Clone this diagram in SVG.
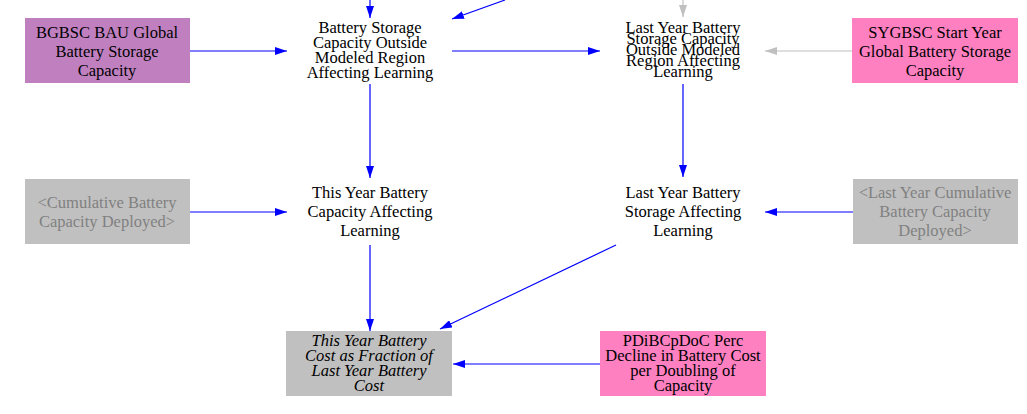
<svg xmlns="http://www.w3.org/2000/svg" width="1027" height="414" viewBox="0 0 1027 414">
<style>
text{font-family:"Liberation Serif","Times New Roman",serif;font-size:16.5px;text-anchor:middle;fill:#000}
.g text{fill:#808080}
.i text{font-style:italic}
.b{stroke:#0000FF;stroke-width:1.2;fill:none}
.gr{stroke:#C0C0C0;stroke-width:1.2;fill:none}
</style>
<defs>
<marker id="ab" viewBox="0 0 12 8" refX="12" refY="4" markerWidth="12" markerHeight="8" markerUnits="userSpaceOnUse" orient="auto"><path d="M0,0L12,4L0,8z" fill="#0000FF"/></marker>
<marker id="ag" viewBox="0 0 12 8" refX="12" refY="4" markerWidth="12" markerHeight="8" markerUnits="userSpaceOnUse" orient="auto"><path d="M0,0L12,4L0,8z" fill="#C0C0C0"/></marker>
</defs>
<g id="connectors">
<path class="b" d="M370,0V18" marker-end="url(#ab)"/>
<path class="b" d="M505,0L452,19" marker-end="url(#ab)"/>
<path class="b" d="M190,51H287" marker-end="url(#ab)"/>
<path class="b" d="M452,51H600" marker-end="url(#ab)"/>
<path class="gr" d="M683,0V17" marker-end="url(#ag)"/>
<path class="gr" d="M853,51H765" marker-end="url(#ag)"/>
<path class="b" d="M370,84V178" marker-end="url(#ab)"/>
<path class="b" d="M683,84V177" marker-end="url(#ab)"/>
<path class="b" d="M190,212H287" marker-end="url(#ab)"/>
<path class="b" d="M853,212H765" marker-end="url(#ab)"/>
<path class="b" d="M370,245V331" marker-end="url(#ab)"/>
<path class="b" d="M616,245L440,329" marker-end="url(#ab)"/>
<path class="b" d="M600,364H453" marker-end="url(#ab)"/>
</g>
<g id="bgbsc">
<rect x="25" y="18" width="165" height="65" fill="#C080C0"/>
<text x="107" y="38">BGBSC BAU Global</text>
<text x="107" y="57">Battery Storage</text>
<text x="107" y="76">Capacity</text>
</g>
<g id="outside">
<text x="370" y="33">Battery Storage</text>
<text x="370" y="48">Capacity Outside</text>
<text x="370" y="63">Modeled Region</text>
<text x="370" y="78">Affecting Learning</text>
</g>
<g id="lastoutside">
<text x="683" y="33">Last Year Battery</text>
<text x="683" y="44">Storage Capacity</text>
<text x="683" y="55">Outside Modeled</text>
<text x="683" y="66">Region Affecting</text>
<text x="683" y="77">Learning</text>
</g>
<g id="sygbsc">
<rect x="852" y="18" width="166" height="65" fill="#FF80C0"/>
<text x="935" y="38">SYGBSC Start Year</text>
<text x="935" y="57">Global Battery Storage</text>
<text x="935" y="76">Capacity</text>
</g>
<g id="cumulative" class="g">
<rect x="25" y="179" width="165" height="65" fill="#C0C0C0"/>
<text x="107" y="208">&lt;Cumulative Battery</text>
<text x="107" y="227">Capacity Deployed&gt;</text>
</g>
<g id="thisyear">
<text x="370" y="198">This Year Battery</text>
<text x="370" y="217">Capacity Affecting</text>
<text x="370" y="236">Learning</text>
</g>
<g id="lastyear">
<text x="683" y="198">Last Year Battery</text>
<text x="683" y="217">Storage Affecting</text>
<text x="683" y="236">Learning</text>
</g>
<g id="lastcumulative" class="g">
<rect x="853" y="179" width="165" height="65" fill="#C0C0C0"/>
<text x="935" y="198">&lt;Last Year Cumulative</text>
<text x="935" y="217">Battery Capacity</text>
<text x="935" y="236">Deployed&gt;</text>
</g>
<g id="costfraction" class="i">
<rect x="286" y="331" width="166" height="65" fill="#C0C0C0"/>
<text x="369" y="346">This Year Battery</text>
<text x="369" y="361">Cost as Fraction of</text>
<text x="369" y="376">Last Year Battery</text>
<text x="369" y="391">Cost</text>
</g>
<g id="pdibcpdoc">
<rect x="600" y="331" width="166" height="65" fill="#FF80C0"/>
<text x="683" y="346">PDiBCpDoC Perc</text>
<text x="683" y="361">Decline in Battery Cost</text>
<text x="683" y="376">per Doubling of</text>
<text x="683" y="391">Capacity</text>
</g>
</svg>
